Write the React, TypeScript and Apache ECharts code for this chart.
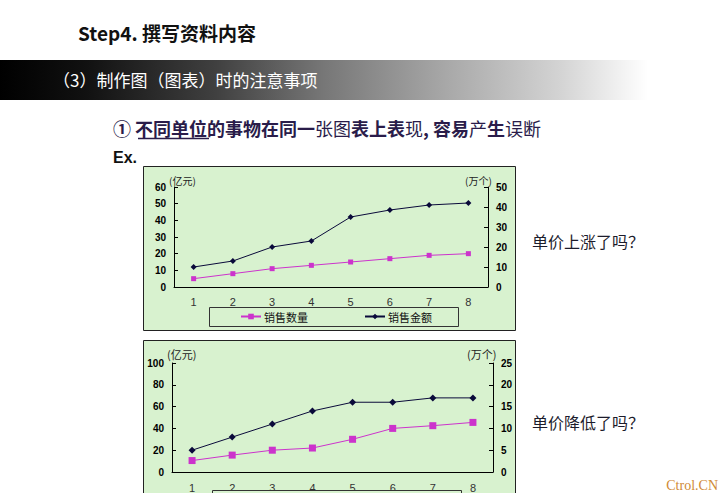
import React, { useEffect, useRef } from "react";
import * as echarts from "echarts";

const categories = ["1", "2", "3", "4", "5", "6", "7", "8"];
const seriesNames = ["销售数量", "销售金额"];
// chart 1 (top)
const topQuantity = [5, 8, 11, 13, 15, 17, 19, 20];
const topAmount = [10, 13, 20, 23, 35, 38.5, 41, 42];
// chart 2 (bottom)
const bottomQuantity = [10.5, 15.5, 20, 22, 30, 40, 42.5, 45.5];
const bottomAmount = [5, 8, 11, 14, 16, 16, 17, 17];
// axis ranges
const topLeftTicks = { min: 0, max: 60, interval: 10 };
const topRightTicks = { min: 0, max: 50, interval: 10 };
const bottomLeftTicks = { min: 0, max: 100, interval: 20 };
const bottomRightTicks = { min: 0, max: 25, interval: 5 };
const unitLeft = "(亿元)";
const unitRight = "(万个)";

const PINK = "#cc33cc";
const NAVY = "#0a0a3a";
const BOX = "#d8f2cf";
const TEXT_DARK = "#2a1c4a";

function xAxisFor(gridIndex: number, margin: number) {
  return {
    gridIndex,
    type: "category",
    data: categories,
    boundaryGap: true,
    axisLine: { lineStyle: { color: "#000", width: 1 } },
    axisTick: { inside: true, length: 4, lineStyle: { color: "#000" } },
    axisLabel: { margin, fontSize: 11, color: "#333", fontFamily: "Liberation Sans" },
    splitLine: { show: false },
  };
}

function yAxisFor(gridIndex: number, position: string, ticks: any) {
  return {
    gridIndex,
    type: "value",
    position,
    min: ticks.min,
    max: ticks.max,
    interval: ticks.interval,
    axisLine: { show: true, lineStyle: { color: "#000", width: 1 } },
    axisTick: { show: true, inside: true, length: 4, lineStyle: { color: "#000" } },
    axisLabel: {
      margin: 8,
      fontSize: 10,
      fontWeight: "bold",
      color: "#000",
      fontFamily: "Liberation Sans",
    },
    splitLine: { show: false },
  };
}

function lineSeries(name: string, data: number[], xi: number, yi: number, pink: boolean, size: number) {
  return {
    name,
    type: "line",
    xAxisIndex: xi,
    yAxisIndex: yi,
    data,
    symbol: pink ? "rect" : "diamond",
    symbolSize: size,
    showSymbol: true,
    lineStyle: { color: pink ? PINK : NAVY, width: 1 },
    itemStyle: { color: pink ? PINK : NAVY },
    emphasis: { disabled: true },
  };
}

export default function App() {
  const ref = useRef<HTMLDivElement>(null);
  useEffect(() => {
    if (!ref.current) return;
    const chart = echarts.init(ref.current, null, { renderer: "svg" });
    const option: any = {
      animation: false,
      backgroundColor: "#ffffff",
      graphic: [
        {
          type: "text",
          x: 78,
          y: 32,
          z: 100,
          style: {
            text: "Step4. 撰写资料内容",
            fontSize: 19,
            fontWeight: "bold",
            fontFamily: "Noto Sans CJK SC",
            fill: "#111",
            verticalAlign: "middle",
          },
        },
        {
          type: "rect",
          z: 0,
          shape: { x: 0, y: 60, width: 720, height: 40 },
          style: {
            fill: {
              type: "linear",
              x: 0,
              y: 0,
              x2: 1,
              y2: 0,
              colorStops: [
                { offset: 0, color: "#000000" },
                { offset: 0.12, color: "#111111" },
                { offset: 0.3, color: "#404040" },
                { offset: 0.45, color: "#777777" },
                { offset: 0.62, color: "#a8a8a8" },
                { offset: 0.78, color: "#d4d4d4" },
                { offset: 0.9, color: "#ffffff" },
                { offset: 1, color: "#ffffff" },
              ],
            },
          },
        },
        {
          type: "text",
          x: 53,
          y: 79,
          z: 100,
          style: {
            text: "（3）制作图（图表）时的注意事项",
            fontSize: 17,
            fontFamily: "Noto Sans CJK SC",
            fill: "#ffffff",
            verticalAlign: "middle",
          },
        },
        {
          type: "text",
          x: 113,
          y: 128,
          z: 100,
          style: {
            text: "{b|① 不同单位的事物在同一}{n|张图}{b|表上表}{n|现}{b|, 容易}{n|产}{b|生}{n|误断}",
            verticalAlign: "middle",
            rich: {
              b: { fontSize: 18, fontWeight: "bold", fontFamily: "Noto Sans CJK SC", fill: TEXT_DARK },
              n: { fontSize: 18, fontWeight: "normal", fontFamily: "Noto Sans CJK SC", fill: TEXT_DARK },
            },
          },
        },
        {
          type: "line",
          z: 100,
          shape: { x1: 138, y1: 138.5, x2: 209, y2: 138.5 },
          style: { stroke: TEXT_DARK, lineWidth: 1.5 },
        },
        {
          type: "text",
          x: 113,
          y: 157,
          z: 100,
          style: {
            text: "Ex.",
            fontSize: 16,
            fontWeight: "bold",
            fontFamily: "Liberation Sans",
            fill: "#111",
            verticalAlign: "middle",
          },
        },
        // chart boxes
        {
          type: "rect",
          z: 0,
          shape: { x: 143.5, y: 166.5, width: 372, height: 164 },
          style: { fill: BOX, stroke: "#222", lineWidth: 1 },
        },
        {
          type: "rect",
          z: 1,
          shape: { x: 209.5, y: 307.5, width: 249, height: 19 },
          style: { fill: BOX, stroke: "#333", lineWidth: 1 },
        },
        {
          type: "rect",
          z: 0,
          shape: { x: 143.5, y: 340.5, width: 372, height: 170 },
          style: { fill: BOX, stroke: "#222", lineWidth: 1 },
        },
        {
          type: "rect",
          z: 1,
          shape: { x: 212.5, y: 490.5, width: 249, height: 19 },
          style: { fill: BOX, stroke: "#333", lineWidth: 1 },
        },
        // units
        {
          type: "text",
          x: 169,
          y: 180,
          z: 100,
          style: { text: unitLeft, fontSize: 10, fontFamily: "Noto Sans CJK SC", fill: "#222", verticalAlign: "middle" },
        },
        {
          type: "text",
          x: 465,
          y: 180,
          z: 100,
          style: { text: unitRight, fontSize: 10, fontFamily: "Noto Sans CJK SC", fill: "#222", verticalAlign: "middle" },
        },
        {
          type: "text",
          x: 167,
          y: 354,
          z: 100,
          style: { text: unitLeft, fontSize: 11, fontFamily: "Noto Sans CJK SC", fill: "#222", verticalAlign: "middle" },
        },
        {
          type: "text",
          x: 467,
          y: 354,
          z: 100,
          style: { text: unitRight, fontSize: 11, fontFamily: "Noto Sans CJK SC", fill: "#222", verticalAlign: "middle" },
        },
        // side questions
        {
          type: "text",
          x: 532,
          y: 241,
          z: 100,
          style: { text: "单价上涨了吗？", fontSize: 16, fontFamily: "Noto Sans CJK SC", fill: "#1c1c2c", verticalAlign: "middle" },
        },
        {
          type: "text",
          x: 532,
          y: 422,
          z: 100,
          style: { text: "单价降低了吗？", fontSize: 16, fontFamily: "Noto Sans CJK SC", fill: "#1c1c2c", verticalAlign: "middle" },
        },
        {
          type: "text",
          x: 718,
          y: 485,
          z: 100,
          style: {
            text: "Ctrol.CN",
            fontSize: 14,
            fontFamily: "Liberation Serif",
            fill: "#d08a35",
            align: "right",
            verticalAlign: "middle",
          },
        },
      ],
      legend: {
        left: 240,
        top: 311,
        itemWidth: 20,
        itemHeight: 7,
        itemGap: 56,
        padding: 0,
        data: seriesNames,
        textStyle: { fontSize: 11, color: "#111", fontFamily: "Noto Sans CJK SC", padding: [0, 0, 0, -2] },
        selectedMode: false,
      },
      grid: [
        { left: 174, top: 187, width: 314, height: 100, show: true, backgroundColor: "#fff", borderColor: "#999", borderWidth: 1 },
        { left: 172, top: 363, width: 321, height: 109, show: true, backgroundColor: "#fff", borderColor: "#999", borderWidth: 1 },
      ],
      xAxis: [xAxisFor(0, 9), xAxisFor(1, 10)],
      yAxis: [
        yAxisFor(0, "left", topLeftTicks),
        yAxisFor(0, "right", topRightTicks),
        yAxisFor(1, "left", bottomLeftTicks),
        yAxisFor(1, "right", bottomRightTicks),
      ],
      series: [
        lineSeries(seriesNames[0], topQuantity, 0, 0, true, 5),
        lineSeries(seriesNames[1], topAmount, 0, 1, false, 6),
        lineSeries(seriesNames[0], bottomQuantity, 1, 2, true, 7),
        lineSeries(seriesNames[1], bottomAmount, 1, 3, false, 7),
      ],
    };
    chart.setOption(option);
    return () => chart.dispose();
  }, []);
  return (
    <div
      ref={ref}
      style={{ position: "absolute", left: 0, top: 0, width: 720, height: 493, background: "#fff" }}
    />
  );
}
